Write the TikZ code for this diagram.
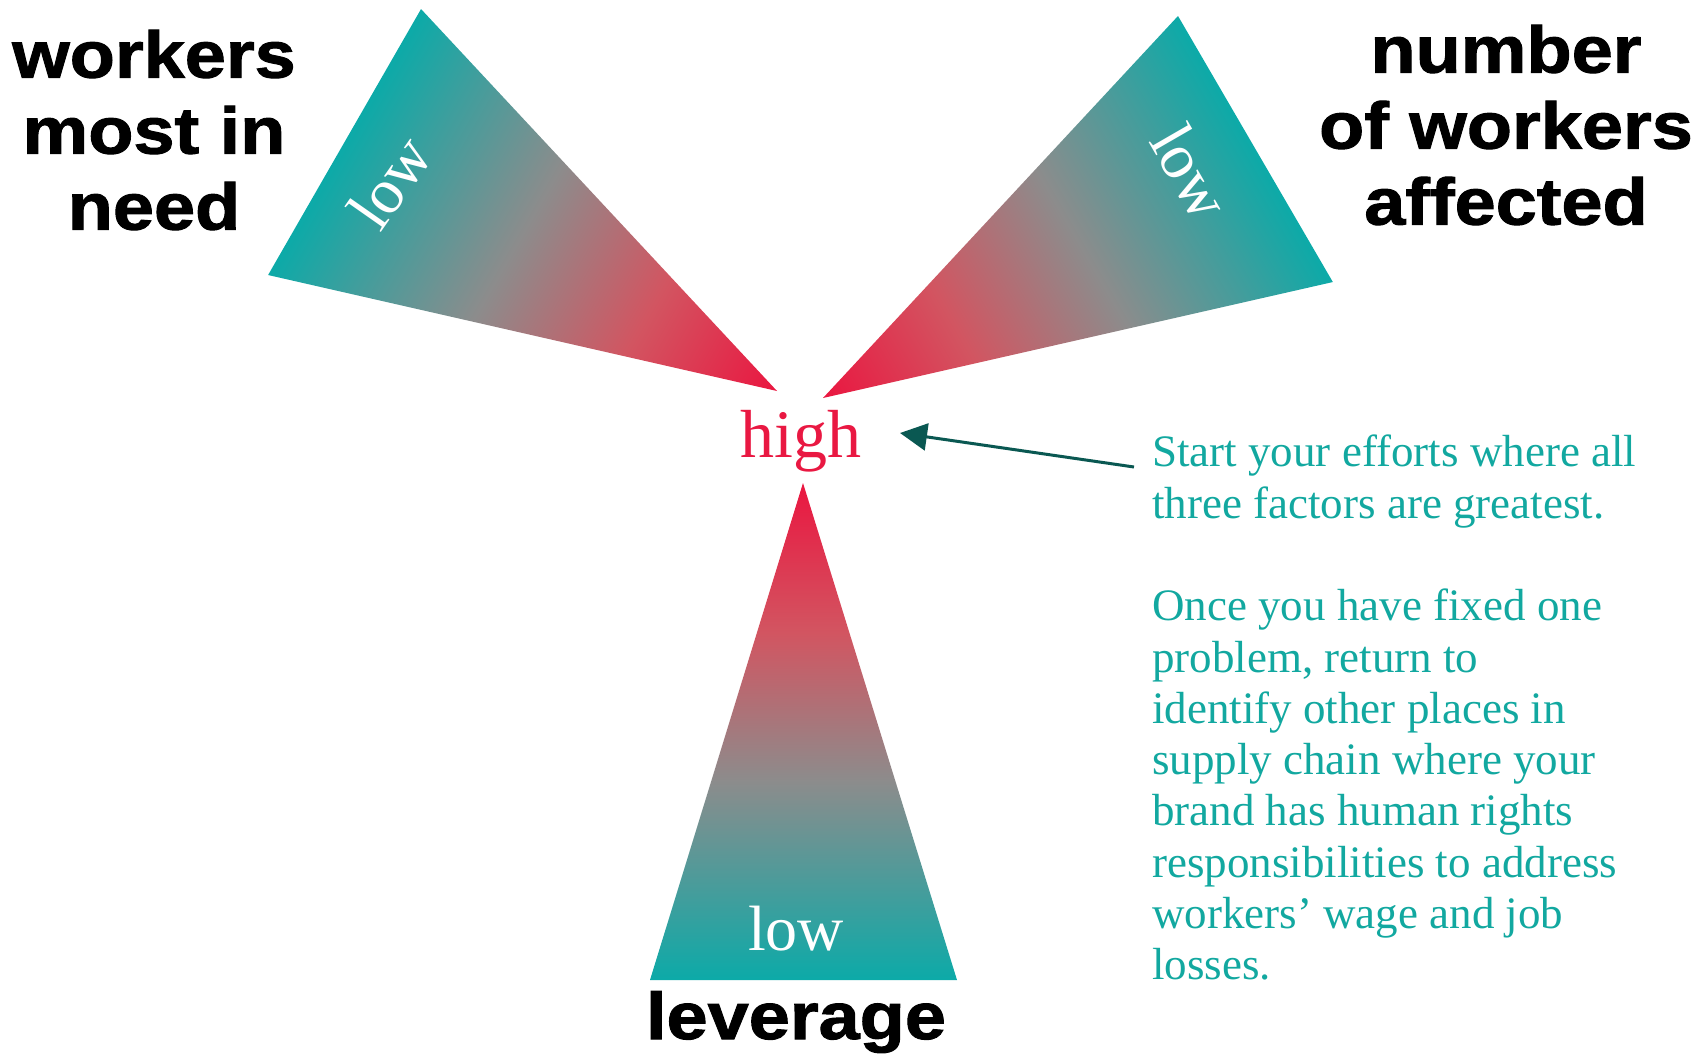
\documentclass[tikz,border=0pt]{standalone}
\usepackage{fontspec}
\setmainfont{Liberation Serif}
\newfontfamily\heavyfont{Liberation Sans}[FakeStretch=1.12,FakeBold=1.5]
\usetikzlibrary{arrows.meta,calc}
\definecolor{hi}{RGB}{233,24,66}
\definecolor{txt}{RGB}{18,168,160}
\definecolor{arrc}{RGB}{10,88,82}
\pgfdeclarehorizontalshading{trigrad}{100bp}{rgb(0bp)=(0.918,0.086,0.251); rgb(25bp)=(0.918,0.086,0.251); rgb(40bp)=(0.824,0.333,0.380); rgb(55bp)=(0.549,0.549,0.549); rgb(75bp)=(0.047,0.667,0.659); rgb(100bp)=(0.047,0.667,0.659)}
\begin{document}
\begin{tikzpicture}[x=1pt,y=-1pt,
  biglabel/.style={font=\heavyfont\bfseries\fontsize{66}{76}\selectfont, align=center, inner sep=0pt},
  lowtxt/.style={font=\fontsize{64}{70}\selectfont, text=white, inner sep=0pt},
  notetext/.style={font=\fontsize{45}{51.3}\selectfont, text=txt, align=left, inner sep=0pt},
  grad/.style={shading=trigrad}]
\useasboundingbox (0,0) rectangle (1703,1055);

% left triangle
\coordinate (LT) at (777,391); \coordinate (L1) at (421,9); \coordinate (L2) at (268,275);
\begin{scope}
  \clip (LT) -- (L1) -- (L2) -- cycle;
  \begin{scope}[transform canvas={rotate around={150.1:(LT)}}]
    \shade[grad] ($(LT)+(0,-400)$) rectangle ($(LT)+(499,400)$);
  \end{scope}
\end{scope}

% right triangle
\coordinate (RT) at (823,398); \coordinate (R1) at (1178,16); \coordinate (R2) at (1333,282);
\begin{scope}
  \clip (RT) -- (R1) -- (R2) -- cycle;
  \begin{scope}[transform canvas={rotate around={30.2:(RT)}}]
    \shade[grad] ($(RT)+(0,-400)$) rectangle ($(RT)+(499,400)$);
  \end{scope}
\end{scope}

% bottom triangle
\coordinate (BT) at (803,483); \coordinate (B1) at (650,980); \coordinate (B2) at (957,980);
\begin{scope}
  \clip (BT) -- (B1) -- (B2) -- cycle;
  \begin{scope}[transform canvas={rotate around={-90:(BT)}}]
    \shade[grad] ($(BT)+(0,-400)$) rectangle ($(BT)+(497,400)$);
  \end{scope}
\end{scope}

% labels
\node[biglabel] (need) at (154,130) {workers\\most in\\need};
\node[biglabel] (affected) at (1506,125) {number\\of workers\\affected};
\node[biglabel, anchor=base] (lev) at (796,1039) {leverage};

\node[lowtxt, rotate=55] (lowL) at (390,182) {low};
\node[lowtxt, rotate=-60] (lowR) at (1191,172) {low};
\node[lowtxt, anchor=base] (lowB) at (796,950) {low};

\node[font=\fontsize{68}{70}\selectfont, text=hi, anchor=base, inner sep=0pt] (high) at (801,457) {high};

\node[notetext, anchor=north west] (note) at (1152,435) {Start your efforts where all\\three factors are greatest.\\[51.3pt]Once you have fixed one\\problem, return to\\identify other places in\\supply chain where your\\brand has human rights\\responsibilities to address\\workers’ wage and job\\losses.};

\coordinate (aS) at (1134,467);
\coordinate (aE) at (900,433);
\draw[arrc, line width=3pt, -{Triangle[length=27pt,width=27pt]}] (aS) -- (aE);
\end{tikzpicture}
\end{document}
